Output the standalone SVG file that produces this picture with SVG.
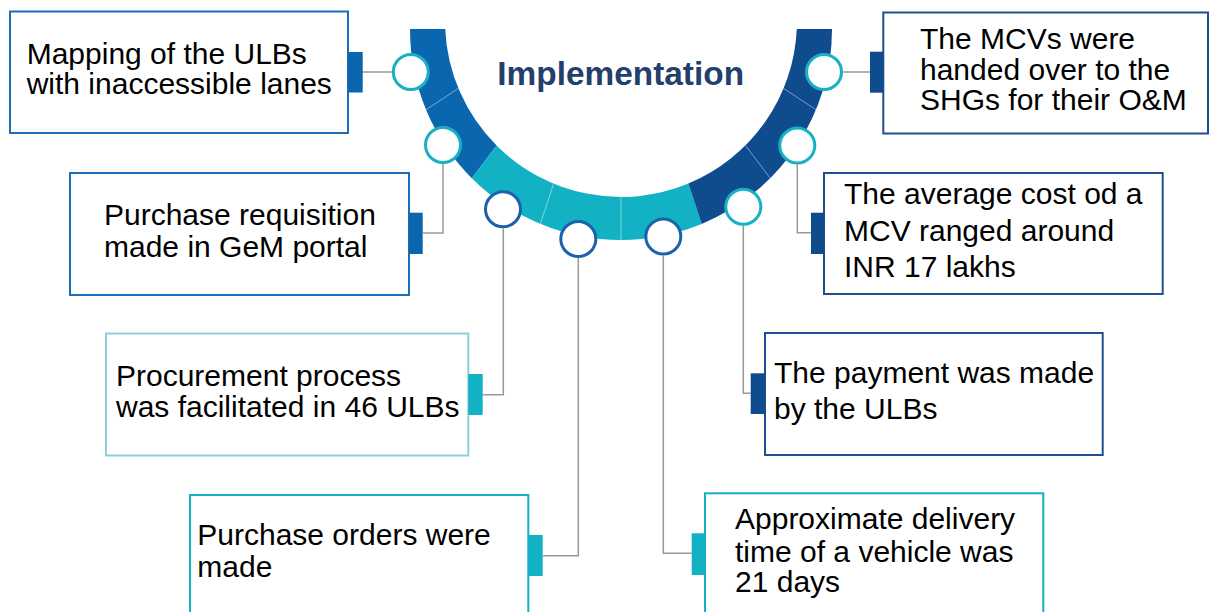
<svg xmlns="http://www.w3.org/2000/svg" width="1210" height="612" viewBox="0 0 1210 612">
<style>
.t{font-family:"Liberation Sans",Arial,sans-serif;font-size:30px;fill:#000}
.box{fill:#fff;stroke-width:2}
.b1{stroke:#1E6DB7}
.b2{stroke:#8CD0DC}
.b3{stroke:#14AFC6}
.b4{stroke:#1F4F8F}
.tb1{fill:#0B66B0}
.tb2{fill:#12B2C4}
.tb3{fill:#0E4C8E}
.c{fill:#fff;stroke-width:3}
.cc{stroke:#19B0C4}
.cb{stroke:#1A62AE}
.ln{fill:none;stroke:#999;stroke-width:1.5}
.dv{stroke:#fff;stroke-opacity:0.45;stroke-width:1}
</style>
<rect width="1210" height="612" fill="#fff"/>
<g id="ring">
<path d="M410,29 A211,211 0 0,0 471.80,178.20 L496.55,145.45 A176,176 0 0,1 445.2,29 Z" fill="#0B66B0"/>
<path d="M471.80,178.20 A211,211 0 0,0 701.75,223.94 L688.35,183.60 A176,176 0 0,1 496.55,145.45 Z" fill="#12B2C4"/>
<path d="M701.75,223.94 A211,211 0 0,0 832,29 L796.8,29 A176,176 0 0,1 688.35,183.60 Z" fill="#0E4C8E"/>
<line class="dv" x1="426.06" y1="109.75" x2="458.40" y2="88.35"/>
<line class="dv" x1="540.25" y1="223.94" x2="553.65" y2="183.60"/>
<line class="dv" x1="621" y1="240" x2="621" y2="197"/>
<line class="dv" x1="770.20" y1="178.20" x2="745.45" y2="145.45"/>
<line class="dv" x1="815.94" y1="109.75" x2="783.60" y2="88.35"/>
<text x="620.7" y="84.5" text-anchor="middle" style="font-family:'Liberation Sans',Arial,sans-serif;font-size:33.4px;font-weight:bold;fill:#243F6B">Implementation</text>
</g>
<g id="connectors">
<path class="ln" d="M362.7,72 H392"/>
<path class="ln" d="M422.7,233 H443 V164"/>
<path class="ln" d="M482.7,394.7 H503.3 V228.5"/>
<path class="ln" d="M542.7,555.7 H578.3 V258"/>
<path class="ln" d="M663.3,255.5 V553.3 H691.7"/>
<path class="ln" d="M743.3,225.5 V393.3 H750.7"/>
<path class="ln" d="M797.3,164.5 V232.7 H811"/>
<path class="ln" d="M843,72 H870"/>
</g>
<g id="circles">
<circle class="c cc" cx="410.8" cy="72" r="17.5"/>
<circle class="c cc" cx="443" cy="145" r="17.5"/>
<circle class="c cb" cx="503" cy="209.2" r="17.5"/>
<circle class="c cb" cx="578.3" cy="239" r="17.5"/>
<circle class="c cb" cx="663.3" cy="236.5" r="17.5"/>
<circle class="c cc" cx="743.3" cy="206.7" r="17.5"/>
<circle class="c cc" cx="797.3" cy="145.5" r="17.5"/>
<circle class="c cc" cx="824" cy="72" r="17.5"/>
</g>
<g id="node1">
<rect class="box b1" x="10" y="11.5" width="338" height="121.5"/>
<rect class="tb1" x="348" y="52" width="14.7" height="40.5"/>
<text class="t" x="26.7" y="64">Mapping of the ULBs</text>
<text class="t" x="26.7" y="94.3">with inaccessible lanes</text>
</g>
<g id="node2">
<rect class="box b1" x="70" y="173" width="339" height="122"/>
<rect class="tb1" x="409" y="212.7" width="13.7" height="41.3"/>
<text class="t" x="104" y="225">Purchase requisition</text>
<text class="t" x="104" y="256.7">made in GeM portal</text>
</g>
<g id="node3">
<rect class="box b2" x="106" y="333.5" width="362.3" height="122"/>
<rect class="tb2" x="468.3" y="374" width="14.4" height="41"/>
<text class="t" x="116" y="385.7">Procurement process</text>
<text class="t" x="116" y="417.3">was facilitated in 46 ULBs</text>
</g>
<g id="node4">
<rect class="box b3" x="190" y="495" width="338.3" height="130"/>
<rect class="tb2" x="528.3" y="535" width="14.4" height="41"/>
<text class="t" x="197.3" y="545">Purchase orders were</text>
<text class="t" x="197.3" y="576.7">made</text>
</g>
<g id="node5">
<rect class="box b3" x="705" y="493.3" width="338.3" height="130"/>
<rect class="tb2" x="691.7" y="533.3" width="13.3" height="41.7"/>
<text class="t" x="735" y="529">Approximate delivery</text>
<text class="t" x="735" y="561.5">time of a vehicle was</text>
<text class="t" x="735" y="592">21 days</text>
</g>
<g id="node6">
<rect class="box b4" x="765" y="333" width="337.7" height="122"/>
<rect class="tb3" x="750.7" y="373.3" width="14.3" height="40.7"/>
<text class="t" x="774" y="382.7">The payment was made</text>
<text class="t" x="774" y="419">by the ULBs</text>
</g>
<g id="node7">
<rect class="box b4" x="824" y="173" width="338.7" height="121"/>
<rect class="tb3" x="811" y="212.7" width="13" height="41.3"/>
<text class="t" x="844" y="204.3">The average cost od a</text>
<text class="t" x="844" y="240.7">MCV ranged around</text>
<text class="t" x="844" y="276.7">INR 17 lakhs</text>
</g>
<g id="node8">
<rect class="box b4" x="883.3" y="12.5" width="324.7" height="121"/>
<rect class="tb3" x="870" y="51.7" width="13.3" height="41"/>
<text class="t" x="920" y="49.3">The MCVs were</text>
<text class="t" x="920" y="80">handed over to the</text>
<text class="t" x="920" y="110">SHGs for their O&amp;M</text>
</g>
</svg>
